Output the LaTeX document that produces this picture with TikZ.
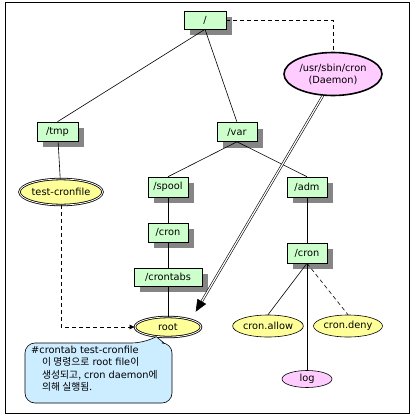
\documentclass[tikz,border=0pt]{standalone}
\usepackage{fontspec}
\setmainfont{DejaVu Sans}
\newfontfamily\krfont{Noto Sans CJK KR}
\usetikzlibrary{arrows.meta,shapes.geometric,shadows}
\definecolor{dirgreen}{HTML}{CCFFCC}
\definecolor{dirshadow}{HTML}{858585}
\definecolor{fileyellow}{HTML}{FFFF99}
\definecolor{procpink}{HTML}{FFCCFF}
\definecolor{noteblue}{HTML}{CCECFF}
\newcommand{\treefont}{\fontsize{9.8}{12}\selectfont}
\tikzset{
  dirbox/.style={
    rectangle,
    draw=black,
    line width=0.6pt,
    fill=dirgreen,
    minimum width=40pt,
    minimum height=19pt,
    inner sep=2pt,
    font=\treefont,
    drop shadow={shadow xshift=6pt,shadow yshift=-6pt,fill=dirshadow,opacity=1}
  },
  filenode/.style={
    ellipse,
    draw=black,
    line width=0.6pt,
    fill=fileyellow,
    inner sep=0pt,
    font=\treefont
  },
  keyfile/.style={
    filenode,
    line width=0.8pt,
    double=white,
    double distance=0.8pt
  },
  procnode/.style={
    ellipse,
    draw=black,
    fill=procpink,
    inner sep=0pt,
    align=center,
    font=\treefont
  },
  branch/.style={line width=0.6pt,draw=black},
  link/.style={line width=0.6pt,draw=black,dash pattern=on 4pt off 3pt},
  arrow/.style={link,-{Triangle[length=5pt,width=4.5pt]}},
  feed/.style={line width=0.6pt,draw=black,double=white,double distance=1.2pt,
    shorten >=9pt,-{Triangle[length=12pt,width=10pt]}},
  balloon/.style={draw=black,line width=0.6pt,fill=noteblue},
  balloontext/.style={align=left,inner sep=0pt,font=\fontsize{9.8}{12.2}\selectfont}
}

\begin{document}
\begin{tikzpicture}[x=1pt,y=-1pt]
  \useasboundingbox (0,0) rectangle (411,416);
  \fill[white] (0,0) rectangle (411,416);
  \draw[line width=0.8pt] (5,2) rectangle (409,413);

  % directory tree
  \node[dirbox, minimum width=42pt, minimum height=18pt] (slash) at (205,20) {/};
  \node[dirbox, minimum width=41pt] (tmp) at (57.5,131.5) {/tmp};
  \node[dirbox] (var) at (237,132) {/var};
  \node[dirbox, minimum height=20pt] (spool) at (168,187) {/spool};
  \node[dirbox] (spoolcron) at (168,232.5) {/cron};
  \node[dirbox, minimum width=68pt, minimum height=18pt] (crontabs) at (168,277) {/crontabs};
  \node[dirbox, minimum height=20pt] (adm) at (307,187) {/adm};
  \node[dirbox, minimum height=20pt] (admcron) at (307,253) {/cron};

  % files and daemon
  \node[procnode, line width=1.6pt, minimum width=98pt, minimum height=43pt] (daemon) at (333,74)
    {/usr/sbin/cron\\(Daemon)};
  \node[keyfile, minimum width=73pt, minimum height=26pt] (testfile) at (61,192) {test-cronfile};
  \node[filenode, minimum width=70pt, minimum height=22pt] (allow) at (268,326) {cron.allow};
  \node[filenode, minimum width=68pt, minimum height=22pt] (deny) at (348,326) {cron.deny};
  \node[procnode, line width=0.6pt, minimum width=50pt, minimum height=17pt] (log) at (307,379) {log};

  % note balloon
  \node[keyfile, minimum width=66pt, minimum height=20pt] (rootfile) at (168,327) {root};
  \draw[balloon, rounded corners=10pt] (25,374) |- (142,343) [sharp corners] -- (rootfile.220)
    -- (164,343) [rounded corners=10pt] -| (172,403) -| cycle;
  \node[balloontext, anchor=north west] (note) at (31,346) {
    \#crontab test-cronfile\\
    \hspace*{11pt}{\krfont 이 명령으로} root file{\krfont 이}\\
    \hspace*{11pt}{\krfont 생성되고,} cron daemon{\krfont 에}\\
    \hspace*{11pt}{\krfont 의해 실행됨.}
  };

  % connectors
  \draw[branch] (slash.south) -- (tmp.north);
  \draw[branch] (slash.south) -- (var.north);
  \draw[link] (slash.east) -| (daemon.north);
  \draw[branch] (tmp) -- (testfile);
  \draw[branch] (var.south) -- (spool.north);
  \draw[branch] (var.south) -- (adm.north);
  \draw[branch] (spool) -- (spoolcron);
  \draw[branch] (spoolcron) -- (crontabs);
  \draw[branch] (crontabs) -- (rootfile);
  \draw[branch] (adm) -- (admcron);
  \draw[branch] (admcron.south) -- (allow.north);
  \draw[link] (admcron.south) -- (deny.north);
  \draw[branch] (admcron) -- (log);
  \draw[arrow] (testfile.south) |- (rootfile.west);
  \draw[feed] (daemon.245) -- (rootfile.18);
\end{tikzpicture}
\end{document}
